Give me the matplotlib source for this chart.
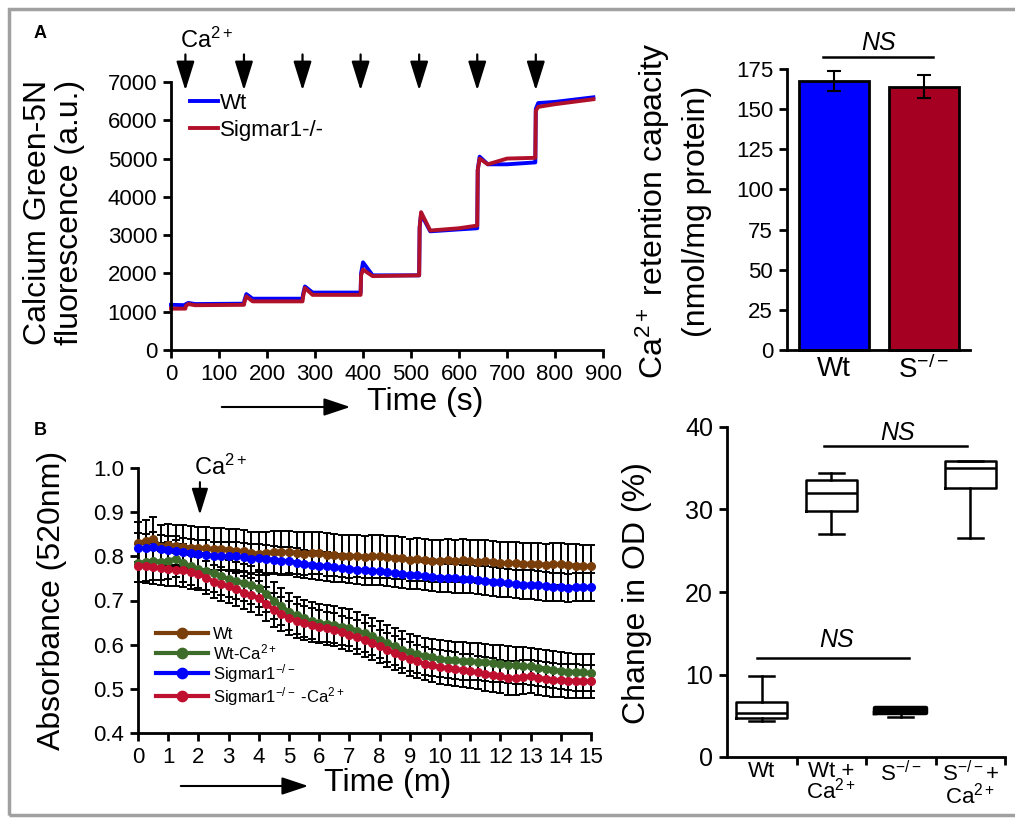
import numpy as np
import matplotlib
matplotlib.use("Agg")
import matplotlib.pyplot as plt
from matplotlib.patches import Rectangle, FancyArrowPatch

plt.rcParams['font.family'] = ['Liberation Sans', 'DejaVu Sans']
plt.rcParams['mathtext.fontset'] = 'custom'
plt.rcParams['mathtext.rm'] = 'Liberation Sans'
plt.rcParams['mathtext.it'] = 'Liberation Sans:italic'
plt.rcParams['mathtext.default'] = 'regular'

W, H = 1015, 821

# ---- panel A: Calcium Green-5N trace (s, a.u.)
ca_time = [0, 30, 31, 36, 50, 152, 153, 157, 170, 274, 275, 279, 295, 395, 396, 400, 420,
           517, 518, 521, 540, 600, 638, 639, 643, 660, 700, 759, 760, 765, 800, 880]
ca_wt = [1180, 1170, 1200, 1230, 1200, 1210, 1300, 1460, 1340, 1340, 1450, 1660, 1500, 1500, 2000, 2290, 1950,
         1950, 3200, 3550, 3100, 3150, 3180, 4700, 5050, 4850, 4850, 4900, 6300, 6450, 6480, 6600]
ca_sig = [1080, 1080, 1150, 1200, 1170, 1180, 1250, 1400, 1270, 1270, 1380, 1620, 1440, 1440, 1950, 2100, 1930,
          1950, 3200, 3600, 3120, 3180, 3250, 4700, 5000, 4850, 5000, 5020, 6250, 6350, 6420, 6550]
pulse_times = [30, 152, 274, 395, 517, 638, 760]

# ---- panel A: retention capacity
crc_groups = ["Wt", "S$^{-/-}$"]
crc_mean = [167.5, 164]
crc_err = [6, 7]

# ---- panel B: swelling (absorbance at 520nm), every 15 s
sw_time = np.arange(0, 15.01, 0.25)
sw_wt = [.830, .835, .840, .822, .826, .824, .822, .820, .819, .818, .816, .817, .815, .813, .812, .808,
         .806, .808, .810, .809, .810, .808, .806, .808, .807, .804, .803, .801, .800, .801, .799, .800,
         .800, .798, .797, .796, .792, .793, .792, .790, .790, .791, .789, .791, .790, .788, .790, .787,
         .785, .784, .785, .783, .783, .782, .781, .782, .782, .780, .779, .778, .777]
sw_wt_ca = [.785, .787, .789, .788, .790, .795, .785, .778, .771, .766, .762, .755, .749, .745, .740, .735,
            .728, .715, .700, .687, .675, .667, .660, .654, .649, .647, .645, .641, .638, .632, .626, .619,
            .611, .603, .596, .589, .583, .578, .574, .571, .568, .566, .565, .563, .562, .561, .560, .558,
            .557, .555, .553, .552, .551, .548, .546, .543, .541, .539, .538, .537, .536]
sw_sig = [.820, .818, .822, .816, .814, .813, .810, .808, .806, .804, .801, .800, .800, .801, .798, .795,
          .796, .794, .792, .790, .789, .786, .783, .780, .779, .777, .775, .773, .771, .770, .768, .767,
          .766, .764, .762, .760, .758, .757, .755, .753, .752, .751, .750, .749, .749, .747, .745, .743,
          .741, .739, .737, .736, .736, .734, .732, .731, .730, .729, .730, .730, .730]
sw_sig_ca = [.779, .778, .776, .774, .771, .770, .768, .765, .761, .752, .743, .738, .732, .725, .718, .712,
             .706, .692, .679, .669, .660, .654, .649, .645, .641, .637, .634, .628, .623, .617, .611, .604,
             .596, .588, .581, .574, .568, .562, .557, .553, .549, .547, .545, .542, .540, .537, .534, .531,
             .528, .525, .524, .527, .528, .525, .522, .520, .519, .518, .518, .517, .517]
sw_err = [0.048, 0.042, 0.032, 0.038]
sw_labels = ["Wt", "Wt-Ca$^{2+}$", "Sigmar1$^{-/-}$", "Sigmar1$^{-/-}$ -Ca$^{2+}$"]
sw_colors = ["#7a3e0a", "#3d6b2a", "#0000ff", "#c0102f"]

# ---- panel B: change in OD (%)
box_labels = ["Wt", "Wt +\nCa$^{2+}$", "S$^{-/-}$", "S$^{-/-}$+\nCa$^{2+}$"]
box_lo = [4.4, 27.0, 4.9, 26.6]
box_q1 = [4.7, 29.8, 5.3, 32.6]
box_med = [5.3, 32.0, 5.6, 35.0]
box_q3 = [6.7, 33.6, 5.97, 35.9]
box_hi = [9.85, 34.4, 6.0, 35.9]


def rect(x0, y0, x1, y1):
    # pixel box (top-left origin) -> figure fraction
    return [x0 / W, 1 - y1 / H, (x1 - x0) / W, (y1 - y0) / H]


def fp(x, y):
    return (x / W, 1 - y / H)


def style(ax, lw=2):
    for s in ["top", "right"]:
        ax.spines[s].set_visible(False)
    for s in ["left", "bottom"]:
        ax.spines[s].set_linewidth(lw)
    ax.tick_params(direction="out", width=lw, length=6)


def time_arrow(x0, x1, y):
    fig.patches.append(FancyArrowPatch(fp(x0, y), fp(x1, y), transform=fig.transFigure,
                                       arrowstyle="-|>,head_length=0.9,head_width=0.3",
                                       mutation_scale=18, color="k", lw=1.5))


fig = plt.figure(figsize=(W / 100, H / 100), dpi=100)
fig.patches.append(Rectangle(fp(9, 815), 1.2, (815 - 9) / H, transform=fig.transFigure,
                             fill=False, edgecolor="#a0a0a0", lw=2.5))
fig.text(*fp(40, 33), "A", fontsize=13, fontweight="bold", ha="center", va="center")
fig.text(*fp(40, 430), "B", fontsize=13, fontweight="bold", ha="center", va="center")

# ---------- A left
ax1 = fig.add_axes(rect(171, 82, 603, 350))
style(ax1)
ax1.plot(ca_time, ca_wt, color="#0000ff", lw=2.8, label="Wt", clip_on=False)
ax1.plot(ca_time, ca_sig, color="#b0102a", lw=2.8, label="Sigmar1-/-", clip_on=False)
ax1.set_xlim(0, 900)
ax1.set_ylim(0, 7000)
ax1.set_xticks(range(0, 901, 100))
ax1.set_yticks(range(0, 7001, 1000))
ax1.tick_params(labelsize=16, pad=4)
ax1.legend(loc="upper left", bbox_to_anchor=fp(190, 93), bbox_transform=fig.transFigure,
           frameon=False, fontsize=16, handlelength=1.25, handletextpad=0.1,
           borderpad=0, borderaxespad=0, labelspacing=0.25)
for t in pulse_times:
    ax1.annotate("", xy=(t, 6780), xytext=(t, 7720), annotation_clip=False,
                 arrowprops=dict(arrowstyle="-|>,head_length=0.9,head_width=0.28",
                                 color="k", lw=1.6, mutation_scale=20, shrinkA=0, shrinkB=0))
fig.text(*fp(207, 40), "Ca$^{2+}$", fontsize=17, ha="center", va="center")
fig.text(*fp(38, 212), "Calcium Green-5N", fontsize=23, rotation=90, ha="center", va="center")
fig.text(*fp(70, 212), "fluorescence (a.u.)", fontsize=23, rotation=90, ha="center", va="center")
fig.text(*fp(425, 402), "Time (s)", fontsize=23, ha="center", va="center")
time_arrow(219, 353, 407)

# ---------- A right
ax2 = fig.add_axes(rect(787, 69, 970, 350))
style(ax2)
ax2.bar([0, 1], crc_mean, width=0.78, color=["#0000ff", "#a50021"], edgecolor="k", lw=2,
        yerr=crc_err, error_kw=dict(ecolor="k", lw=1.5, capsize=5, capthick=1.5), clip_on=False)
ax2.set_xlim(-0.52, 1.51)
ax2.set_ylim(0, 175)
ax2.set_yticks(range(0, 176, 25))
ax2.set_xticks([0, 1], crc_groups)
ax2.tick_params(axis="y", labelsize=16, pad=4)
ax2.tick_params(axis="x", length=0, labelsize=20, pad=4)
ax2.plot([-0.12, 1.1], [182.5, 182.5], color="k", lw=1.8, clip_on=False)
ax2.text(0.49, 191, "NS", fontsize=18, style="italic", ha="center", va="center", clip_on=False)
fig.text(*fp(653, 211), "Ca$^{2+}$ retention capacity", fontsize=23, rotation=90, ha="center", va="center")
fig.text(*fp(697, 211), "(nmol/mg protein)", fontsize=23, rotation=90, ha="center", va="center")

# ---------- B left
ax3 = fig.add_axes(rect(138, 468, 591, 733))
style(ax3)
series = [sw_wt, sw_wt_ca, sw_sig, sw_sig_ca]
for y, e in zip(series, sw_err):
    ax3.errorbar(sw_time, y, yerr=e, fmt="none", ecolor="k", elinewidth=1.4, capsize=3.2,
                 capthick=1.4, zorder=2, clip_on=False)
for y, c, lab in zip(series, sw_colors, sw_labels):
    ax3.plot(sw_time, y, color=c, lw=3, marker="o", ms=5.5, label=lab, zorder=3, clip_on=False)
ax3.set_xlim(0, 15)
ax3.set_ylim(0.4, 1.0)
ax3.set_xticks(range(0, 16))
ax3.set_yticks([0.4, 0.5, 0.6, 0.7, 0.8, 0.9, 1.0])
ax3.set_yticklabels(["0.4", "0.5", "0.6", "0.7", "0.8", "0.9", "1.0"])
ax3.tick_params(axis="both", labelsize=16, pad=4)
ax3.legend(loc="upper left", bbox_to_anchor=fp(156, 627), bbox_transform=fig.transFigure,
           frameon=False, fontsize=12, handlelength=3.1, handletextpad=0.3, markerscale=1.35,
           borderpad=0, borderaxespad=0, labelspacing=0.0)
ax3.annotate("", xy=(2.05, 0.894), xytext=(2.05, 0.968), annotation_clip=False,
             arrowprops=dict(arrowstyle="-|>,head_length=0.9,head_width=0.28",
                             color="k", lw=1.5, mutation_scale=18, shrinkA=0, shrinkB=0))
fig.text(*fp(221, 467), "Ca$^{2+}$", fontsize=17, ha="center", va="center")
fig.text(*fp(52, 600), "Absorbance (520nm)", fontsize=23, rotation=90, ha="center", va="center")
fig.text(*fp(388, 783), "Time (m)", fontsize=23, ha="center", va="center")
time_arrow(178, 311, 786)

# ---------- B right
ax4 = fig.add_axes(rect(727, 427, 1005, 757))
style(ax4)
stats = [dict(med=m, q1=a, q3=b, whislo=lo, whishi=hi, fliers=[])
         for m, a, b, lo, hi in zip(box_med, box_q1, box_q3, box_lo, box_hi)]
parts = ax4.bxp(stats, positions=[1, 2, 3, 4], widths=0.73, showfliers=False,
                boxprops=dict(lw=1.8, color="k"), medianprops=dict(lw=1.8, color="k"),
                whiskerprops=dict(lw=1.8, color="k"), capprops=dict(lw=1.8, color="k"))
parts["boxes"][2].set_linewidth(3.2)
parts["medians"][2].set_linewidth(3.2)
ax4.set_xlim(0.5, 4.5)
ax4.set_ylim(0, 40)
ax4.set_yticks(range(0, 41, 10))
ax4.set_xticks([1, 2, 3, 4], box_labels)
ax4.set_xticks([1.5, 2.5, 3.5, 4.5], minor=True)
ax4.tick_params(axis="x", which="major", length=0, labelsize=16, pad=3)
ax4.tick_params(axis="x", which="minor", length=6, width=2, direction="out")
ax4.tick_params(axis="y", labelsize=18, pad=4)
for t in ax4.get_xticklabels():
    t.set_linespacing(0.8)
ax4.plot([1.9, 3.95], [37.7, 37.7], color="k", lw=1.8)
ax4.text(2.95, 39.3, "NS", fontsize=18, style="italic", ha="center", va="center")
ax4.plot([0.93, 3.12], [12.0, 12.0], color="k", lw=1.8)
ax4.text(2.07, 14.2, "NS", fontsize=18, style="italic", ha="center", va="center")
fig.text(*fp(637, 593), "Change in OD (%)", fontsize=23, rotation=90, ha="center", va="center")

fig.savefig("out.png", dpi=100)
